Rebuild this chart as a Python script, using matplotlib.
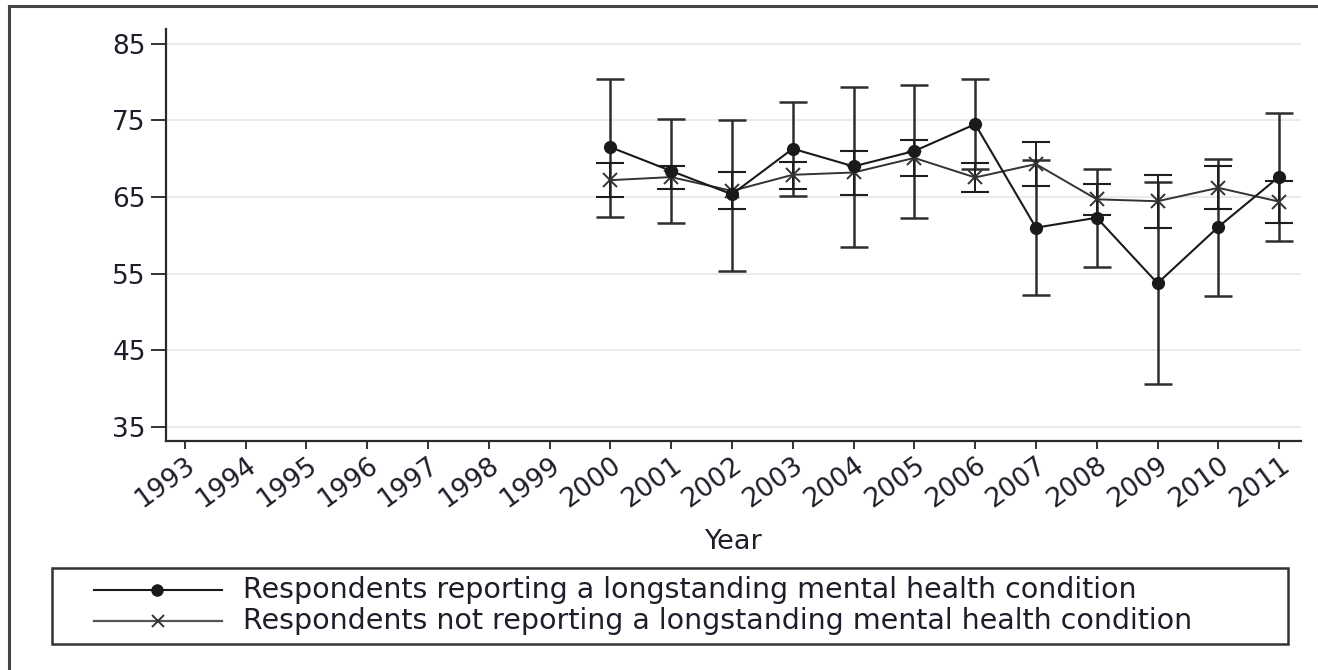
import numpy as np
import matplotlib
matplotlib.use("Agg")
import matplotlib.pyplot as plt
from matplotlib.lines import Line2D
from matplotlib.patches import Rectangle

plt.rcParams['font.family'] = ['DejaVu Sans']

# x axis runs over the full survey period, estimates exist from 2000 on
tick_years = list(range(1993, 2012))
years = list(range(2000, 2012))

# mean and 95% CI, respondents reporting a mental health condition
mh_mean = [71.5, 68.4, 65.35, 71.3, 69.0, 71.0, 74.5, 61.0, 62.3, 53.75, 61.1, 67.65]
mh_low = [62.4, 61.65, 55.4, 65.1, 58.5, 62.3, 68.6, 52.2, 55.9, 40.6, 52.1, 59.2]
mh_high = [80.4, 75.2, 75.1, 77.4, 79.4, 79.65, 80.4, 69.8, 68.7, 66.9, 70.0, 76.0]

# mean and 95% CI, respondents not reporting one
no_mean = [67.2, 67.6, 65.8, 67.9, 68.2, 70.1, 67.55, 69.3, 64.7, 64.45, 66.2, 64.4]
no_low = [65.0, 66.0, 63.4, 66.1, 65.3, 67.75, 65.7, 66.4, 62.65, 61.0, 63.4, 61.65]
no_high = [69.5, 69.1, 68.2, 69.6, 71.0, 72.4, 69.4, 72.2, 66.7, 67.9, 69.0, 67.15]

y_ticks = [35, 45, 55, 65, 75, 85]
labels = ["Respondents reporting a longstanding mental health condition",
          "Respondents not reporting a longstanding mental health condition"]

W, H = 1318, 670
fig = plt.figure(figsize=(W / 100, H / 100), dpi=100)


def fx(px):
    return px / W


def fy(py):
    return 1 - py / H


ax = fig.add_axes([fx(166), fy(441), fx(1301) - fx(166), fy(29) - fy(441)])

txt = '#1e1e2a'
ink = '#1a1a1a'

ax.set_xlim(1992.69, 2011.36)
ax.set_ylim(33.17, 86.92)
ax.set_yticks(y_ticks)
ax.set_xticks(tick_years)
ax.set_xticklabels([str(y) for y in tick_years], rotation=36, ha='right',
                   rotation_mode='anchor')
ax.tick_params(axis='y', length=11, width=1.3, pad=3.5, labelsize=19,
               colors='#222222', labelcolor=txt)
ax.tick_params(axis='x', length=6, width=1.3, pad=2, labelsize=19,
               colors='#222222', labelcolor=txt)
ax.grid(axis='y', color='#e4e4e4', linewidth=1.1)
ax.set_axisbelow(True)
for side in ['top', 'right']:
    ax.spines[side].set_visible(False)
for side in ['left', 'bottom']:
    ax.spines[side].set_color('#2a2a2a')
    ax.spines[side].set_linewidth(1.6)

ax.set_xlabel("Year", fontsize=19.5, color=txt)
ax.xaxis.set_label_coords(0.5, (441 - 542) / 412)
ax.xaxis.label.set_va('center')

mh_mean = np.array(mh_mean)
no_mean = np.array(no_mean)
ax.errorbar(years, mh_mean, yerr=[mh_mean - np.array(mh_low), np.array(mh_high) - mh_mean],
            fmt='none', ecolor='#2e2e2e', elinewidth=1.8, capsize=10, capthick=1.8, zorder=2)
ax.errorbar(years, no_mean, yerr=[no_mean - np.array(no_low), np.array(no_high) - no_mean],
            fmt='none', ecolor='#1e1e1e', elinewidth=1.4, capsize=10, capthick=1.5, zorder=2)

ax.plot(years, no_mean, color='#333333', linewidth=1.4, marker='x',
        markersize=10, markeredgewidth=1.4, zorder=3)
ax.plot(years, mh_mean, color=ink, linewidth=1.5, marker='o',
        markersize=9.5, markeredgewidth=0, zorder=4)

# outer border of the graph region
fig.add_artist(Line2D([fx(9), 1], [fy(6), fy(6)], color='#444444', linewidth=2.2))
fig.add_artist(Line2D([fx(9), fx(9)], [0, fy(6)], color='#444444', linewidth=2.2))

# legend box below the plot
fig.add_artist(Rectangle((fx(52), fy(644)), fx(1288) - fx(52), fy(568) - fy(644),
                         fill=False, edgecolor='#333333', linewidth=1.8))
rows = [fy(590), fy(621)]
fig.add_artist(Line2D([fx(94), fx(222)], [rows[0]] * 2, color=ink, linewidth=1.5))
fig.add_artist(Line2D([fx(157)], [rows[0]], color=ink, marker='o', markersize=9,
                      markeredgewidth=0))
fig.add_artist(Line2D([fx(94), fx(222)], [rows[1]] * 2, color='#555555', linewidth=1.6))
fig.add_artist(Line2D([fx(158)], [rows[1]], color='#333333', marker='x', markersize=9,
                      markeredgewidth=1.4))
for r, lab in zip(rows, labels):
    fig.text(fx(243), r, lab, fontsize=20.5, color=txt, ha='left', va='center')

fig.savefig("out.png", dpi=100)
